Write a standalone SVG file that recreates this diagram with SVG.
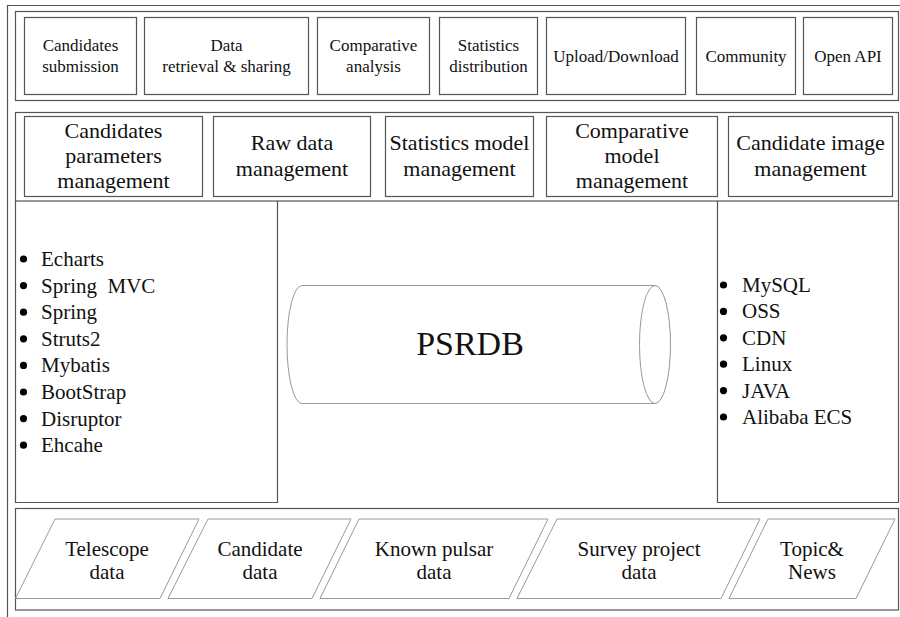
<svg xmlns="http://www.w3.org/2000/svg" width="900" height="617" viewBox="0 0 900 617">
<style>
  .frame{fill:none;stroke:#555;stroke-width:1.2}
  .box{fill:#fff;stroke:#555;stroke-width:1.2}
  .thin{fill:#fff;stroke:#999;stroke-width:1}
  text{font-family:"Liberation Serif","Times New Roman",serif;fill:#111;text-anchor:middle}
  .t1{font-size:17px}
  .t2{font-size:22px}
  .t3{font-size:21px}
  .li{font-size:21px;text-anchor:start}
  .big{font-size:34px}
  .dot{fill:#000}
</style>
<rect width="900" height="617" fill="#fff"/>
<g id="outer-frame">
  <path class="frame" d="M7.5,622 V5.5 H900"/>
</g>
<g id="bands">
  <rect class="frame" x="15.5" y="11.5" width="883" height="89"/>
  <rect class="frame" x="15.5" y="112.5" width="883" height="88.5"/>
  <rect class="frame" x="15.5" y="508.5" width="883" height="101.5"/>
</g>
<g id="app-layer">
  <g id="n-cand-sub"><rect class="box" x="24.5" y="17.5" width="112" height="77"/>
    <text class="t1" x="80.5" y="50.5">Candidates</text><text class="t1" x="80.5" y="71.5">submission</text></g>
  <g id="n-data-ret"><rect class="box" x="144.5" y="17.5" width="164" height="77"/>
    <text class="t1" x="226.5" y="50.5">Data</text><text class="t1" x="226.5" y="71.5">retrieval &amp; sharing</text></g>
  <g id="n-comp-ana"><rect class="box" x="317.5" y="17.5" width="112" height="77"/>
    <text class="t1" x="373.5" y="50.5">Comparative</text><text class="t1" x="373.5" y="71.5">analysis</text></g>
  <g id="n-stat-dist"><rect class="box" x="439.5" y="17.5" width="98" height="77"/>
    <text class="t1" x="488.5" y="50.5">Statistics</text><text class="t1" x="488.5" y="71.5">distribution</text></g>
  <g id="n-updown"><rect class="box" x="546.5" y="17.5" width="139" height="77"/>
    <text class="t1" x="616" y="61.5">Upload/Download</text></g>
  <g id="n-community"><rect class="box" x="696.5" y="17.5" width="99" height="77"/>
    <text class="t1" x="746" y="61.5">Community</text></g>
  <g id="n-openapi"><rect class="box" x="803.5" y="17.5" width="89" height="77"/>
    <text class="t1" x="848" y="61.5">Open API</text></g>
</g>
<g id="mgmt-layer">
  <g id="n-cand-param"><rect class="box" x="24.5" y="116.5" width="178" height="80"/>
    <text class="t2" x="113.5" y="137.5">Candidates</text><text class="t2" x="113.5" y="162.5">parameters</text><text class="t2" x="113.5" y="187.5">management</text></g>
  <g id="n-raw"><rect class="box" x="213.5" y="116.5" width="157" height="80"/>
    <text class="t2" x="292" y="149.5">Raw data</text><text class="t2" x="292" y="175.5">management</text></g>
  <g id="n-stat-model"><rect class="box" x="385.5" y="116.5" width="148" height="80"/>
    <text class="t2" x="459.5" y="149.5">Statistics model</text><text class="t2" x="459.5" y="175.5">management</text></g>
  <g id="n-comp-model"><rect class="box" x="546.5" y="116.5" width="171" height="80"/>
    <text class="t2" x="632" y="137.5">Comparative</text><text class="t2" x="632" y="162.5">model</text><text class="t2" x="632" y="187.5">management</text></g>
  <g id="n-cand-img"><rect class="box" x="728.5" y="116.5" width="164" height="80"/>
    <text class="t2" x="810.5" y="149.5">Candidate image</text><text class="t2" x="810.5" y="175.5">management</text></g>
</g>
<g id="n-frontend">
  <path class="frame" d="M15.5,201 V502.5 H277.5 V201"/>
  <g class="dot">
    <circle cx="23.5" cy="259" r="3.6"/><circle cx="23.5" cy="285.6" r="3.6"/><circle cx="23.5" cy="312.2" r="3.6"/><circle cx="23.5" cy="338.8" r="3.6"/>
    <circle cx="23.5" cy="365.4" r="3.6"/><circle cx="23.5" cy="392" r="3.6"/><circle cx="23.5" cy="418.6" r="3.6"/><circle cx="23.5" cy="445.2" r="3.6"/>
  </g>
  <text class="li" x="41" y="266">Echarts</text>
  <text class="li" x="41" y="292.6">Spring&#160; MVC</text>
  <text class="li" x="41" y="319.2">Spring</text>
  <text class="li" x="41" y="345.8">Struts2</text>
  <text class="li" x="41" y="372.4">Mybatis</text>
  <text class="li" x="41" y="399">BootStrap</text>
  <text class="li" x="41" y="425.6">Disruptor</text>
  <text class="li" x="41" y="452.2">Ehcahe</text>
</g>
<g id="n-backend">
  <path class="frame" d="M717.5,201 V502.5 H898.5 V201"/>
  <g class="dot">
    <circle cx="723.5" cy="285" r="3.6"/><circle cx="723.5" cy="311.4" r="3.6"/><circle cx="723.5" cy="337.8" r="3.6"/>
    <circle cx="723.5" cy="364.2" r="3.6"/><circle cx="723.5" cy="390.6" r="3.6"/><circle cx="723.5" cy="417" r="3.6"/>
  </g>
  <text class="li" x="742" y="292">MySQL</text>
  <text class="li" x="742" y="318.4">OSS</text>
  <text class="li" x="742" y="344.8">CDN</text>
  <text class="li" x="742" y="371.2">Linux</text>
  <text class="li" x="742" y="397.6">JAVA</text>
  <text class="li" x="742" y="424">Alibaba ECS</text>
</g>
<g id="n-psrdb">
  <path class="thin" d="M302,285.5 H655 A15,59 0 0 1 655,403.5 H302 A15,59 0 0 1 302,285.5 Z"/>
  <ellipse class="thin" cx="655" cy="344.5" rx="15.5" ry="59" fill="none"/>
  <text class="big" x="470" y="355">PSRDB</text>
</g>
<g id="data-layer">
  <g id="n-telescope"><polygon class="thin" points="55,519 199,519 160,598.5 15.5,598.5"/>
    <text class="t3" x="107" y="556">Telescope</text><text class="t3" x="107" y="579">data</text></g>
  <g id="n-candidate"><polygon class="thin" points="208,519 351,519 312,598.5 168,598.5"/>
    <text class="t3" x="260" y="556">Candidate</text><text class="t3" x="260" y="579">data</text></g>
  <g id="n-known"><polygon class="thin" points="359,519 548,519 509,598.5 320,598.5"/>
    <text class="t3" x="434" y="556">Known pulsar</text><text class="t3" x="434" y="579">data</text></g>
  <g id="n-survey"><polygon class="thin" points="557,519 760,519 721,598.5 517,598.5"/>
    <text class="t3" x="639" y="556">Survey project</text><text class="t3" x="639" y="579">data</text></g>
  <g id="n-topic"><polygon class="thin" points="768,519 895,519 856,598.5 729,598.5"/>
    <text class="t3" x="812" y="556">Topic&amp;</text><text class="t3" x="812" y="579">News</text></g>
</g>
<g id="connectors"></g>
</svg>
